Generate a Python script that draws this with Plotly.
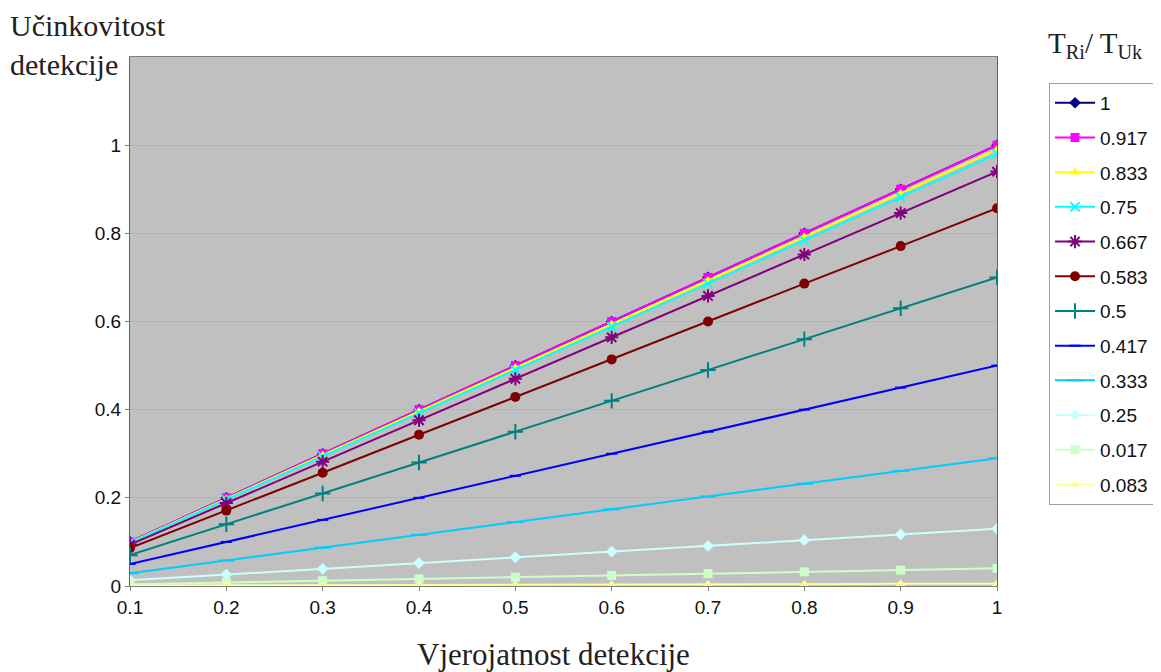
import plotly.graph_objects as go

x_vals = [0.1, 0.2, 0.3, 0.4, 0.5, 0.6, 0.7, 0.8, 0.9, 1.0]
x_labels = ["0.1", "0.2", "0.3", "0.4", "0.5", "0.6", "0.7", "0.8", "0.9", "1"]

series_names = ["1", "0.917", "0.833", "0.75", "0.667", "0.583", "0.5", "0.417", "0.333", "0.25", "0.017", "0.083"]

s_1 = [0.100, 0.200, 0.300, 0.400, 0.500, 0.600, 0.700, 0.800, 0.900, 1.000]
s_0917 = [0.100, 0.200, 0.300, 0.400, 0.500, 0.600, 0.700, 0.800, 0.900, 1.000]
s_0833 = [0.099, 0.198, 0.297, 0.396, 0.495, 0.594, 0.693, 0.792, 0.891, 0.990]
s_075 = [0.098, 0.196, 0.294, 0.392, 0.490, 0.588, 0.686, 0.784, 0.882, 0.980]
s_0667 = [0.094, 0.188, 0.282, 0.376, 0.470, 0.564, 0.658, 0.752, 0.846, 0.940]
s_0583 = [0.086, 0.171, 0.257, 0.343, 0.429, 0.514, 0.600, 0.686, 0.771, 0.857]
s_05 = [0.070, 0.140, 0.210, 0.280, 0.350, 0.420, 0.490, 0.560, 0.630, 0.700]
s_0417 = [0.050, 0.100, 0.150, 0.200, 0.250, 0.300, 0.350, 0.400, 0.450, 0.500]
s_0333 = [0.029, 0.058, 0.087, 0.116, 0.145, 0.174, 0.203, 0.232, 0.261, 0.290]
s_025 = [0.013, 0.026, 0.039, 0.052, 0.065, 0.078, 0.091, 0.104, 0.117, 0.130]
s_0017 = [0.004, 0.008, 0.012, 0.016, 0.020, 0.024, 0.028, 0.032, 0.036, 0.040]
s_0083 = [0.001, 0.001, 0.002, 0.002, 0.003, 0.003, 0.004, 0.004, 0.005, 0.005]

series_values = [s_1, s_0917, s_0833, s_075, s_0667, s_0583, s_05, s_0417, s_0333, s_025, s_0017, s_0083]

colors = ["#000080", "#FF00FF", "#FFFF00", "#00FFFF", "#800080", "#800000",
          "#008080", "#0000FF", "#00CCFF", "#CCFFFF", "#CCFFCC", "#FFFF99"]
symbols = ["diamond", "square", "triangle-up", "x-thin", "asterisk", "circle",
           "cross-thin", "line-ew", "line-ew", "diamond", "square", "triangle-up"]
sizes = [9, 9, 9, 9, 11, 10, 11, 8, 12, 9, 9, 9]

fig = go.Figure()
for i, (name, vals) in enumerate(zip(series_names, series_values)):
    sym = symbols[i]
    open_like = sym in ("x-thin", "asterisk", "cross-thin", "line-ew")
    fig.add_trace(go.Scatter(
        x=x_vals, y=vals, name=name, mode="lines+markers",
        legendgroup="g%d" % i,
        line=dict(color=colors[i], width=2),
        marker=dict(symbol=sym, size=sizes[i], color=colors[i],
                    line=dict(color=colors[i], width=2 if open_like else 0)),
    ))

tick_font = dict(family="Liberation Sans, Arial", size=19, color="#111111")

fig.update_layout(
    width=1161, height=672,
    margin=dict(l=122, r=172, t=49, b=94, autoexpand=False),
    paper_bgcolor="white",
    plot_bgcolor="#C0C0C0",
    font=dict(family="Liberation Sans, Arial", size=19, color="#111111"),
    showlegend=True,
    legend=dict(
        x=1.06, y=0.951, xanchor="left", yanchor="top",
        bgcolor="white", bordercolor="#A0A0A0", borderwidth=1,
        font=dict(family="Liberation Sans, Arial", size=19, color="#111111"),
        tracegroupgap=7,
        itemwidth=40,
    ),
    xaxis=dict(
        range=[0.1, 1.0], tickvals=x_vals, ticktext=x_labels,
        showgrid=False, zeroline=False,
        showline=True, linecolor="#808080", linewidth=1, mirror=True,
        ticks="outside", ticklen=4, tickcolor="#808080",
        tickfont=tick_font,
    ),
    yaxis=dict(
        range=[0, 1.2], tickvals=[0, 0.2, 0.4, 0.6, 0.8, 1.0],
        ticktext=["0", "0.2", "0.4", "0.6", "0.8", "1"],
        showgrid=True, gridcolor="#B4B4B4", gridwidth=1, zeroline=False,
        showline=True, linecolor="#606060", linewidth=1, mirror=True,
        ticks="outside", ticklen=4, tickcolor="#808080",
        tickfont=tick_font,
    ),
)

serif = "Liberation Serif, Times New Roman"
fig.add_annotation(xref="paper", yref="paper", x=-0.141, y=1.095, xanchor="left", yanchor="top",
                   text="Učinkovitost<br>detekcije", showarrow=False, align="left",
                   font=dict(family=serif, size=30, color="#222222"))
fig.add_annotation(xref="paper", yref="paper", x=0.488, y=-0.13, xanchor="center", yanchor="middle",
                   text="Vjerojatnost detekcije", showarrow=False,
                   font=dict(family=serif, size=31, color="#222222"))
fig.add_annotation(xref="paper", yref="paper", x=1.0565, y=1.023, xanchor="left", yanchor="middle",
                   text="T<sub>Ri</sub>/ T<sub>Uk</sub>", showarrow=False,
                   font=dict(family=serif, size=29, color="#222222"))

fig.write_html("out.html")
